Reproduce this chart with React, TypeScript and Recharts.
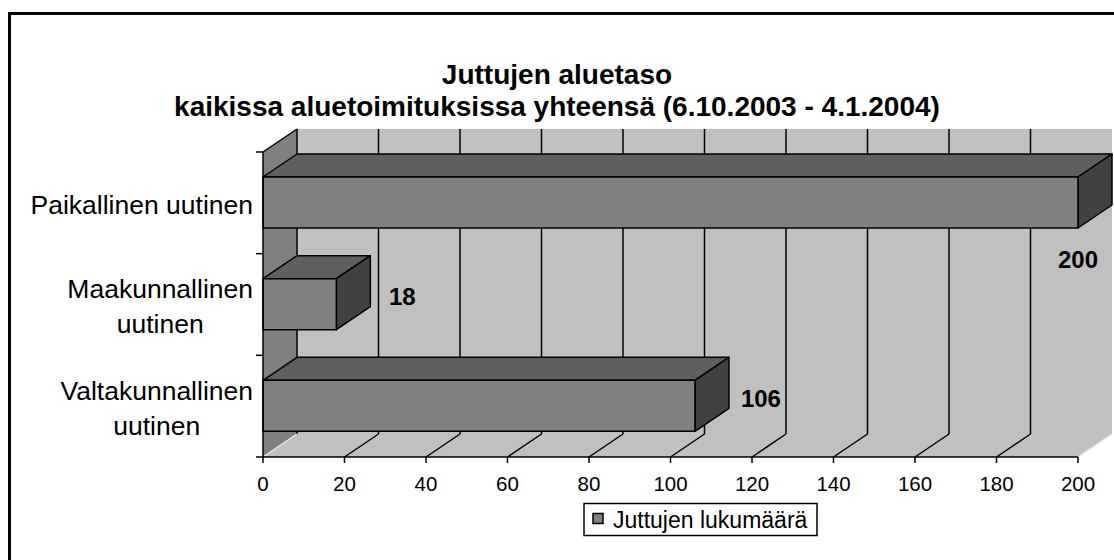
import React from 'react'
import { BarChart, Bar, XAxis, YAxis, CartesianGrid, LabelList } from 'recharts'

// chart data
const categories = ['Paikallinen uutinen', 'Maakunnallinen uutinen', 'Valtakunnallinen uutinen']
const counts = [200, 18, 106]
const xTicks = [0, 20, 40, 60, 80, 100, 120, 140, 160, 180, 200]
const seriesName = 'Juttujen lukumäärä'
const titleLines = ['Juttujen aluetaso', 'kaikissa aluetoimituksissa yhteensä (6.10.2003 - 4.1.2004)']

const data = categories.map((name, i) => ({ name, value: counts[i] }))

// layout
const W = 1114
const H = 560
const LEFT = 263
const TOP = 152
const PW = 815
const PH = 305
const DX = 34
const DY = -23
const FONT = '"Liberation Sans", Arial, Helvetica, sans-serif'

const WALL = '#c0c0c0'
const SIDE_WALL = '#808080'
const FRONT = '#808080'
const TOP_FACE = '#5f5f5f'
const SIDE_FACE = '#414141'

let ctx: CanvasRenderingContext2D | null = null
const textWidth = (s: string, size: number) => {
  if (!ctx && typeof document !== 'undefined') ctx = document.createElement('canvas').getContext('2d')
  if (!ctx) return s.length * size * 0.5
  ctx.font = `${size}px "Liberation Sans", Arial`
  return ctx.measureText(s).width
}

// back wall, floor and left wall, drawn with the first grid line
const Walls = ({ x0, top, bottom }: { x0: number; top: number; bottom: number }) => {
  const x1 = x0 + PW
  return (
    <g>
      <polygon
        points={`${x0 + DX},${top + DY} ${x1 + DX},${top + DY} ${x1 + DX},${bottom + DY} ${x0 + DX},${bottom + DY}`}
        fill={WALL}
      />
      <polygon points={`${x0},${bottom} ${x1},${bottom} ${x1 + DX},${bottom + DY} ${x0 + DX},${bottom + DY}`} fill={WALL} />
      <polygon points={`${x0},${top} ${x0 + DX},${top + DY} ${x0 + DX},${bottom + DY} ${x0},${bottom}`} fill={SIDE_WALL} />
      <line x1={x0} y1={top} x2={x0 + DX} y2={top + DY} stroke="#000" strokeWidth={1.5} />
      <line x1={x0 + DX} y1={top + DY} x2={x0 + DX} y2={bottom + DY} stroke="#000" strokeWidth={1.5} />
      <line x1={x0} y1={bottom} x2={x0 + DX} y2={bottom + DY} stroke="#e8e8e8" strokeWidth={1.5} />
    </g>
  )
}

const GridLine = (p: any) => {
  const x = Number(p.x1)
  const top = Math.min(Number(p.y1), Number(p.y2))
  const bottom = Math.max(Number(p.y1), Number(p.y2))
  if (Math.abs(x - LEFT) < 0.5) return <Walls x0={x} top={top} bottom={bottom} />
  if (Math.abs(x - (LEFT + PW)) < 0.5)
    return <line x1={x} y1={bottom} x2={x + DX} y2={bottom + DY} stroke="#e8e8e8" strokeWidth={1.5} />
  return (
    <g>
      <line x1={x + DX} y1={top + DY} x2={x + DX} y2={bottom + DY} stroke="#000" strokeWidth={1.5} />
      <line x1={x} y1={bottom} x2={x + DX} y2={bottom + DY} stroke="#000" strokeWidth={1.5} />
    </g>
  )
}

const XTick = (props: any) => {
  const { x, payload } = props
  return (
    <text x={x} y={TOP + PH + 34} textAnchor="middle" fontSize={20.5} fontFamily={FONT} fill="#000">
      {payload.value}
    </text>
  )
}

const YTick = (props: any) => {
  const { y, index, payload } = props
  const band = PH / categories.length
  const label = String(payload.value)
  let lines = [label]
  if (textWidth(label, 26.5) > 235) {
    const cut = label.lastIndexOf(' ')
    lines = [label.slice(0, cut), label.slice(cut + 1)]
  }
  const maxW = Math.max(...lines.map((l) => textWidth(l, 26.5)))
  const cx = LEFT - 10 - maxW / 2
  const lh = 35
  const first = y - ((lines.length - 1) * lh) / 2 + 11
  return (
    <g>
      <line x1={LEFT - 7} y1={y - band / 2} x2={LEFT} y2={y - band / 2} stroke="#000" strokeWidth={1.5} />
      {index === categories.length - 1 && (
        <line x1={LEFT - 7} y1={y + band / 2} x2={LEFT} y2={y + band / 2} stroke="#000" strokeWidth={1.5} />
      )}
      <text textAnchor="middle" fontSize={26.5} fontFamily={FONT} fill="#000">
        {lines.map((l, i) => (
          <tspan key={i} x={cx} y={first + i * lh}>
            {l}
          </tspan>
        ))}
      </text>
    </g>
  )
}

const Box3D = (props: any) => {
  const { x, y, width, height } = props
  if (width == null || height == null) return null
  const r = x + width
  const b = y + height
  return (
    <g stroke="#000" strokeWidth={1.5} strokeLinejoin="round">
      <polygon points={`${x},${y} ${x + DX},${y + DY} ${r + DX},${y + DY} ${r},${y}`} fill={TOP_FACE} />
      <polygon points={`${r},${y} ${r + DX},${y + DY} ${r + DX},${b + DY} ${r},${b}`} fill={SIDE_FACE} />
      <rect x={x} y={y} width={width} height={height} fill={FRONT} />
    </g>
  )
}

const ValueLabel = (props: any) => {
  const { x, y, width, height, value } = props
  const r = Number(x) + Number(width)
  const full = r >= LEFT + PW - 1
  const tx = full ? r : r + 66
  const ty = full ? Number(y) + Number(height) + 40 : Number(y) + Number(height) / 2 + 1
  return (
    <text x={tx} y={ty} textAnchor="middle" fontSize={24} fontWeight="bold" fontFamily={FONT} fill="#000">
      {value}
    </text>
  )
}

const App: React.FC = () => (
  <div style={{ position: 'absolute', left: 0, top: 0, width: W, height: H, overflow: 'hidden', background: '#fff' }}>
    <div
      style={{
        position: 'absolute',
        left: 8,
        top: 12,
        width: W + 20,
        height: H + 20,
        border: '3px solid #000',
        boxSizing: 'border-box',
      }}
    />
    <div style={{ position: 'absolute', left: 0, top: 0 }}>
      <BarChart
        width={W}
        height={H}
        data={data}
        layout="vertical"
        margin={{ top: TOP, right: W - LEFT - PW, bottom: 0, left: 0 }}
      >
        <CartesianGrid horizontal={false} vertical={(p: any) => <GridLine {...p} />} />
        <XAxis
          type="number"
          domain={[0, 200]}
          ticks={xTicks}
          interval={0}
          axisLine={{ stroke: '#000', strokeWidth: 1.5 }}
          tickLine={{ stroke: '#000', strokeWidth: 1.5 }}
          tickSize={6}
          height={H - TOP - PH}
          tick={(p: any) => <XTick {...p} />}
        />
        <YAxis
          type="category"
          dataKey="name"
          width={LEFT}
          interval={0}
          tickLine={false}
          axisLine={{ stroke: '#000', strokeWidth: 1.5 }}
          tick={(p: any) => <YTick {...p} />}
        />
        <Bar dataKey="value" name={seriesName} barSize={51} shape={Box3D} isAnimationActive={false}>
          <LabelList dataKey="value" content={ValueLabel} />
        </Bar>
      </BarChart>
    </div>
    <svg width={W} height={H} style={{ position: 'absolute', left: 0, top: 0, pointerEvents: 'none' }}>
      <text x={W / 2} textAnchor="middle" fontSize={28} fontWeight="bold" fontFamily={FONT} fill="#000">
        <tspan x={W / 2} y={84}>
          {titleLines[0]}
        </tspan>
        <tspan x={W / 2} y={116}>
          {titleLines[1]}
        </tspan>
      </text>
      <rect x={584} y={503.5} width={233} height={32} fill="#fff" stroke="#000" strokeWidth={1.5} />
      <rect x={593} y={513.5} width={10} height={10} fill={FRONT} stroke="#000" strokeWidth={1.5} />
      <text x={613} y={528} fontSize={23} fontFamily={FONT} fill="#000">
        {seriesName}
      </text>
    </svg>
  </div>
)

export default App
